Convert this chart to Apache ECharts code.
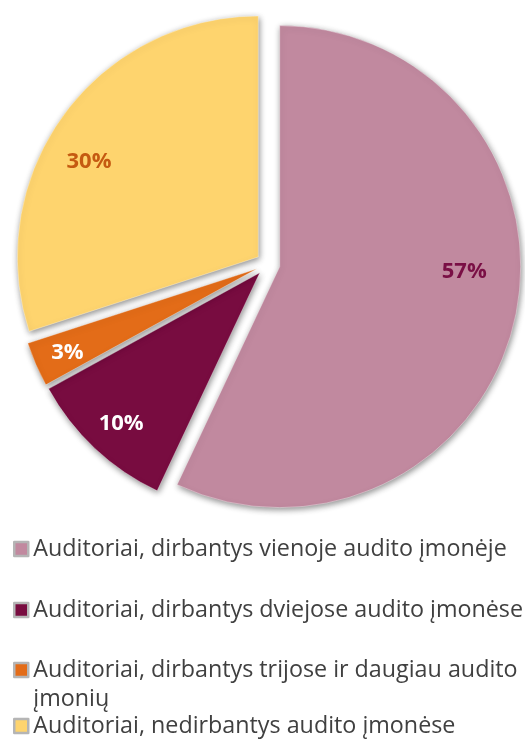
<!DOCTYPE html>
<html>
<head>
<meta charset="utf-8">
<script src="https://cdn.jsdelivr.net/npm/echarts@6/dist/echarts.min.js"></script>
<style>
  html, body { margin: 0; padding: 0; background: #ffffff; }
  #chart { width: 525px; height: 740px; }
</style>
</head>
<body>
<div id="chart"></div>
<script>
// ---- data ----
const categories = [
  'Auditoriai, dirbantys vienoje audito įmonėje',
  'Auditoriai, dirbantys dviejose audito įmonėse',
  'Auditoriai, dirbantys trijose ir daugiau audito įmonių',
  'Auditoriai, nedirbantys audito įmonėse'
];
const shares = [57, 10, 3, 30];

// ---- styles ----
const sliceColors = ['#c1899f', '#780c40', '#e36c18', '#fed46e'];
const labelColors = ['#7a0f45', '#ffffff', '#ffffff', '#c55a11'];
const pieCx = 268, pieCy = 264, pieR = 241;
// label placement (angle clockwise from 12 o'clock, fraction of radius)
const labelSpots = [
  { ang: 92.3, rf: 0.815 },
  { ang: 222.6, rf: 0.90 },
  { ang: 246.1, rf: 0.91 },
  { ang: 299.7, rf: 0.855 }
];
const legendTops = [536, 597, 626.5, 713];

const chart = echarts.init(document.getElementById('chart'), null, { renderer: 'canvas' });

const legends = categories.map((name, i) => ({
  data: [name],
  orient: 'vertical',
  left: 13,
  top: legendTops[i],
  padding: 0,
  selectedMode: false,
  icon: 'rect',
  itemWidth: 14,
  itemHeight: 14,
  itemGap: 0,
  itemStyle: { borderColor: '#b5b5b5', borderWidth: 2.5 },
  // the long third entry wraps its last word onto a second line (first line stays level with the icon)
  formatter: i === 2 ? (n => '\n' + n.replace(/ (\S+)$/, '\n$1')) : (n => n),
  textStyle: {
    fontFamily: 'Open Sans',
    fontSize: 23.3,
    color: '#404040',
    lineHeight: i === 2 ? 29 : 26
  }
}));

const labelTexts = shares.map((v, i) => {
  const s = labelSpots[i];
  const a = s.ang * Math.PI / 180;
  return {
    type: 'text',
    silent: true,
    z: 100,
    x: pieCx + s.rf * pieR * Math.sin(a),
    y: pieCy - s.rf * pieR * Math.cos(a),
    style: {
      text: v + '%',
      fill: labelColors[i],
      fontFamily: 'Open Sans',
      fontWeight: 'bold',
      fontSize: 22,
      align: 'center',
      verticalAlign: 'middle',
      textAlign: 'center',
      textVerticalAlign: 'middle'
    }
  };
});

chart.setOption({
  animation: false,
  backgroundColor: '#ffffff',
  legend: legends,
  graphic: labelTexts,
  series: [{
    type: 'pie',
    center: [pieCx, pieCy],
    radius: pieR,
    startAngle: 90,
    clockwise: true,
    selectedMode: 'multiple',
    selectedOffset: 12,
    avoidLabelOverlap: false,
    emphasis: { disabled: true },
    labelLine: { show: false },
    label: { show: false },
    itemStyle: {
      borderColor: 'rgba(255,255,255,0.35)',
      borderWidth: 1,
      shadowBlur: 6,
      shadowColor: 'rgba(0,0,0,0.45)',
      shadowOffsetX: 1,
      shadowOffsetY: 2
    },
    data: categories.map((name, i) => ({
      name: name,
      value: shares[i],
      selected: true,
      itemStyle: { color: sliceColors[i] },
      select: { itemStyle: { color: sliceColors[i] } }
    }))
  }]
});
</script>
</body>
</html>
